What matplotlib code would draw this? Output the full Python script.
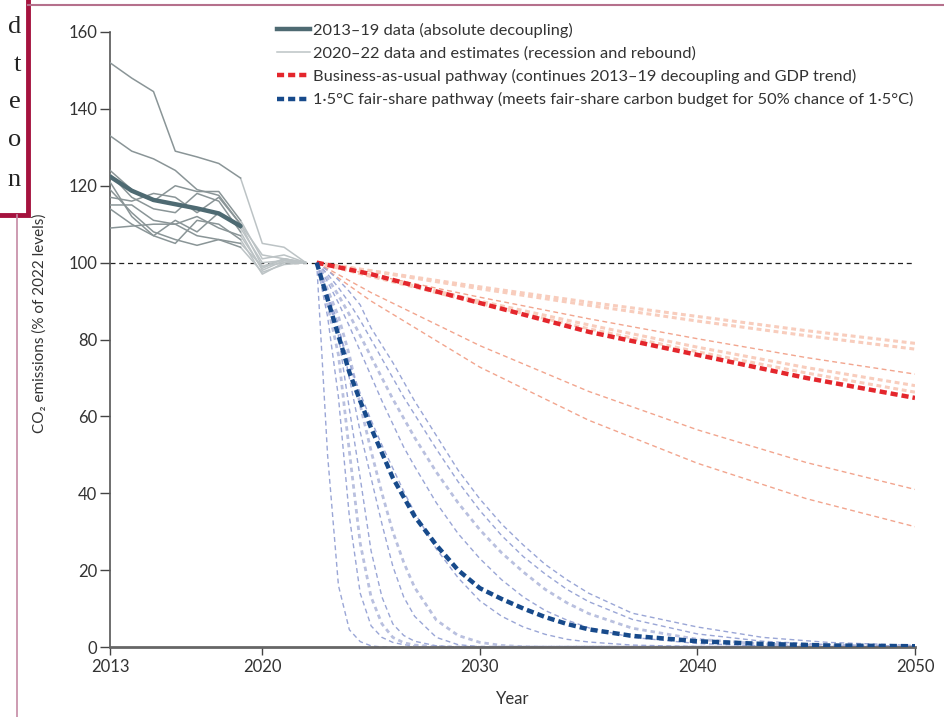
import matplotlib
matplotlib.use("Agg")
import matplotlib.pyplot as plt
from matplotlib.lines import Line2D
from matplotlib.patches import Rectangle

plt.rcParams["font.family"] = ["Lato", "DejaVu Sans"]

# ---- historical data (% of 2022 level) ----
HIST_YEARS = [2013, 2014, 2015, 2016, 2017, 2018, 2019, 2020, 2021, 2022]
country_hist = [
    [152, 148, 144.5, 129, 127.5, 125.8, 122, 105, 104, 100],
    [133, 129, 127, 124, 119, 117.5, 110, 99, 101, 100],
    [124, 119, 116, 120, 118.5, 118.5, 111, 101, 102, 100],
    [123, 117, 114, 113, 118, 116, 108, 98, 100.5, 100],
    [121, 112, 107, 105, 111, 110, 106, 97, 100, 100],
    [117, 116, 118, 117, 113, 117, 110, 102, 101, 100],
    [115, 115, 111, 110, 112, 109, 107, 98.5, 101, 100],
    [114, 110, 107, 111, 108, 113, 109, 100, 100.5, 100],
    [109, 109.5, 110, 110, 107, 106, 104, 97.5, 99.5, 100],
    [119, 113, 108, 106, 104.5, 106, 105, 99, 100, 100],
]
mean_hist = [122.4, 118.7, 116.3, 115.2, 114.1, 112.8, 109.5]

# ---- business-as-usual pathways ----
BAU_YEARS = [2022.5, 2025, 2030, 2035, 2040, 2045, 2050]
bau_main = [100, 97, 89.5, 82, 76, 70, 64.8]
bau_countries = [
    [100, 97.9, 93.7, 89.7, 86, 82.3, 79],
    [100, 97.8, 93.2, 88.9, 84.8, 81, 77.5],
    [100, 96.9, 91, 85.4, 80.2, 75.3, 71],
    [100, 96.6, 90, 83.8, 78, 72.7, 68],
    [100, 96.4, 89.4, 82.8, 76.8, 71.3, 66.3],
    [100, 92.2, 78.4, 66.5, 56.5, 48, 41],
    [100, 90, 72.8, 59, 47.8, 38.6, 31.3],
]
bau_pale = [True, True, False, True, True, False, False]

# ---- 1.5C fair-share pathways ----
FS_YEARS = [2022.5, 2023, 2023.5, 2024, 2024.5, 2025, 2025.5, 2026, 2026.5, 2027,
            2028, 2029, 2030, 2031, 2032, 2033, 2034, 2035, 2037, 2040, 2043, 2046, 2050]
fs_main = [100, 90.5, 81, 71.5, 64, 57, 50.5, 44, 39, 34, 26.5, 20, 15.3, 12.5, 10,
           7.8, 6, 4.6, 2.9, 1.5, 0.8, 0.4, 0.2]
fs_countries = [
    [100, 50, 16, 4.5, 1.4, 0.3, 0, 0, 0, 0, 0, 0, 0, 0, 0, 0, 0, 0, 0, 0, 0, 0, 0],
    [100, 86, 65, 34, 14, 5.5, 2.5, 1.2, 0.6, 0.3, 0, 0, 0, 0, 0, 0, 0, 0, 0, 0, 0, 0, 0],
    [100, 89, 76, 51, 27, 13, 6, 2.5, 1.1, 0.5, 0.1, 0, 0, 0, 0, 0, 0, 0, 0, 0, 0, 0, 0],
    [100, 91, 81, 62, 44, 25, 13, 6, 3, 1.5, 0.3, 0, 0, 0, 0, 0, 0, 0, 0, 0, 0, 0, 0],
    [100, 92, 84, 70, 56, 44, 32, 21, 13, 8, 2.5, 0.6, 0.1, 0, 0, 0, 0, 0, 0, 0, 0, 0, 0],
    [100, 93, 86, 76, 63, 51, 40, 30, 22, 15.5, 7, 3, 1.2, 0.4, 0.1, 0, 0, 0, 0, 0, 0, 0, 0],
    [100, 91.5, 82.5, 74, 66, 59, 52.5, 46.5, 40.5, 35, 25.5, 18, 12, 8, 5.2, 3.3, 2, 1.3,
     0.5, 0.1, 0, 0, 0],
    [100, 95, 89.5, 83.5, 77, 70.5, 64, 58, 52, 47, 37.5, 29.5, 23, 17.5, 13, 9.5, 7, 5,
     2.5, 0.9, 0.3, 0.1, 0],
    [100, 96, 91.5, 86.5, 81, 75.5, 70, 64.5, 59.5, 54.5, 45.5, 37.5, 30.5, 24.5, 19.5,
     15, 11.5, 8.7, 4.9, 2, 0.8, 0.3, 0.1],
    [100, 97, 93.5, 89.5, 85, 80, 75, 70, 65, 60.5, 51.5, 43, 35.5, 29, 23.5, 19, 15,
     11.8, 7.2, 3.4, 1.5, 0.6, 0.2],
    [100, 98, 95.5, 92.5, 89, 83, 78.5, 74, 69, 64, 55, 46, 38.5, 32, 26.5, 21.5, 17.5,
     14, 8.8, 5.2, 2.5, 1.2, 0.4],
]
fs_pale = [False, False, True, False, False, True, False, False, True, False, False]

X_TICKS = [2013, 2020, 2030, 2040, 2050]
Y_TICKS = [0, 20, 40, 60, 80, 100, 120, 140, 160]

C_HIST = "#8a9597"
C_MEAN = "#4e6a72"
C_RECENT = "#bcc3c5"
C_RED = "#e4262c"
C_RED_LIGHT = "#f2a58e"
C_RED_PALE = "#f8cdbd"
C_BLUE = "#174a8b"
C_BLUE_LIGHT = "#9aa6d6"
C_BLUE_PALE = "#b9c0df"
C_TEXT = "#333333"

W, H = 945, 717


def fx(px):
    return px / W


def fy(py):
    return 1 - py / H


fig = plt.figure(figsize=(W / 100, H / 100), dpi=100)
ax = fig.add_axes([fx(110), fy(647), fx(915) - fx(110), fy(32) - fy(647)])

# pathways (thin ones first)
for vals, pale in zip(bau_countries, bau_pale):
    if pale:
        ax.plot(BAU_YEARS, vals, color=C_RED_PALE, lw=2.2, dashes=(1.6, 1.2), zorder=2)
    else:
        ax.plot(BAU_YEARS, vals, color=C_RED_LIGHT, lw=1.0, dashes=(3.5, 2.5), zorder=2)
for vals, pale in zip(fs_countries, fs_pale):
    if pale:
        ax.plot(FS_YEARS, vals, color=C_BLUE_PALE, lw=2.0, dashes=(1.6, 1.4), zorder=2)
    else:
        ax.plot(FS_YEARS, vals, color=C_BLUE_LIGHT, lw=1.0, dashes=(3.5, 2.5), zorder=2)
ax.plot(BAU_YEARS, bau_main, color=C_RED, lw=3.2, dashes=(1.6, 0.9), zorder=4)
ax.plot(FS_YEARS, fs_main, color=C_BLUE, lw=3.2, dashes=(1.6, 0.9), zorder=4)

# historical
for vals in country_hist:
    ax.plot(HIST_YEARS[6:], vals[6:], color=C_RECENT, lw=1.1, zorder=3)
for vals in country_hist:
    ax.plot(HIST_YEARS[:7], vals[:7], color=C_HIST, lw=1.1, zorder=3)
ax.plot(HIST_YEARS[:7], mean_hist, color=C_MEAN, lw=3.2, zorder=5,
        solid_capstyle="round")

ax.axhline(100, color="#222222", lw=0.9, dashes=(4, 3), zorder=1)

ax.set_xlim(2013, 2050)
ax.set_ylim(0, 160)
ax.set_xticks(X_TICKS)
ax.set_yticks(Y_TICKS)
for s in ["top", "right"]:
    ax.spines[s].set_visible(False)
ax.spines["left"].set_color("#555555")
ax.spines["left"].set_linewidth(1.2)
ax.spines["bottom"].set_color("#666666")
ax.spines["bottom"].set_linewidth(2.0)
ax.tick_params(axis="y", direction="out", length=7, width=1.0, color="#444444",
               labelsize=12, labelcolor=C_TEXT, pad=2)
ax.tick_params(axis="x", direction="out", length=6, width=1.0, color="#444444",
               labelsize=12, labelcolor=C_TEXT, pad=3)
ax.set_xlabel("Year", fontsize=12, color=C_TEXT, labelpad=11)

fig.text(fx(40), fy(323), "CO₂ emissions (% of 2022 levels)", rotation=90,
         ha="center", va="center", fontsize=11, color=C_TEXT)

handles = [
    Line2D([], [], color=C_MEAN, lw=3.2),
    Line2D([], [], color=C_RECENT, lw=1.1),
    Line2D([], [], color=C_RED, lw=3.2, dashes=(1.6, 0.9)),
    Line2D([], [], color=C_BLUE, lw=3.2, dashes=(1.6, 0.9)),
]
labels = [
    "2013–19 data (absolute decoupling)",
    "2020–22 data and estimates (recession and rebound)",
    "Business-as-usual pathway (continues 2013–19 decoupling and GDP trend)",
    "1·5°C fair-share pathway (meets fair-share carbon budget for 50% chance of 1·5°C)",
]
fig.legend(handles, labels, loc="upper left", bbox_to_anchor=(fx(277), fy(23)),
           frameon=False, fontsize=11.8, handlelength=2.0, handletextpad=0.2,
           labelspacing=0.5, borderaxespad=0, borderpad=0, labelcolor=C_TEXT)

# page decorations around the figure
fig.add_artist(Line2D([fx(28), fx(945)], [fy(5), fy(5)], color="#b5708c", lw=1.5))
fig.add_artist(Line2D([fx(17), fx(17)], [fy(215), fy(717)], color="#c58aa4", lw=1.2))
fig.add_artist(Rectangle((fx(-10), fy(215)), fx(38), fy(0) - fy(215) + 0.02,
                         transform=fig.transFigure, fill=True, facecolor="white",
                         edgecolor="#a5123e", lw=3.5))
for letter, py in zip(["d", "t", "e", "o", "n"], [27, 65, 102, 140, 180]):
    fig.text(fx(21), fy(py), letter, ha="right", va="center", fontsize=19,
             family=["Liberation Serif", "DejaVu Serif"], color="#222222")

fig.savefig("out.png", dpi=100)
